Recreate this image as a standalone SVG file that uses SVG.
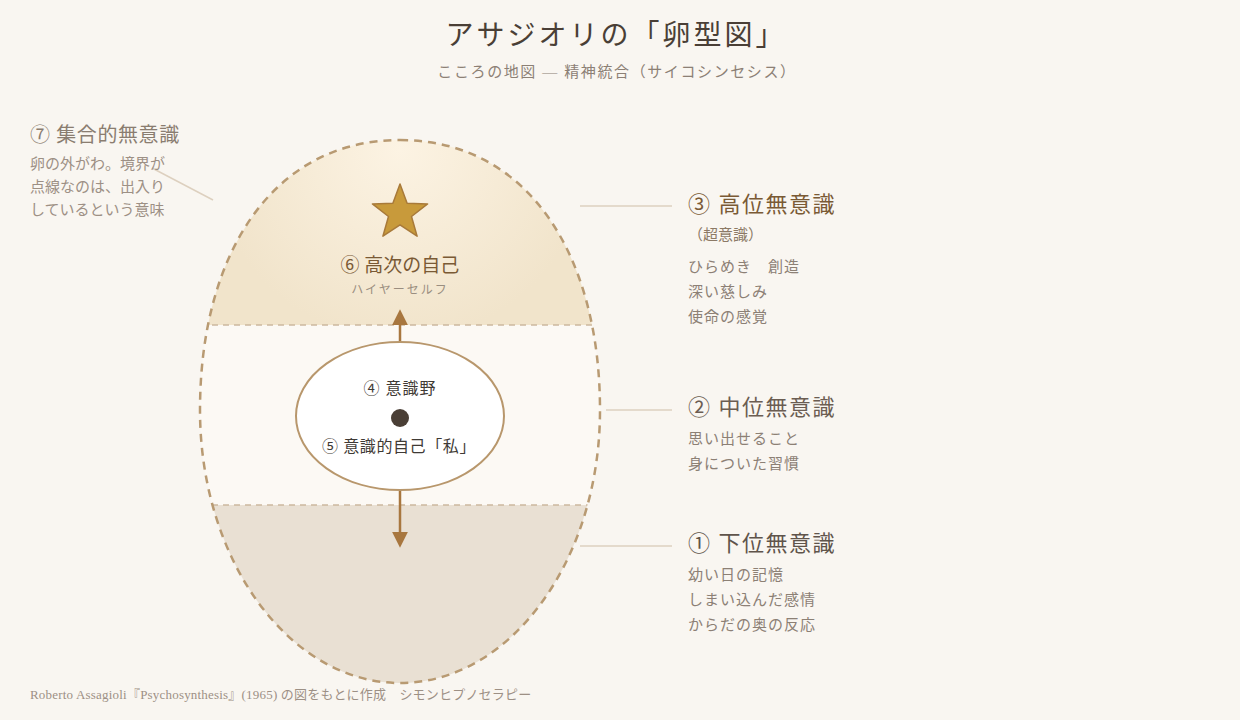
<svg xmlns="http://www.w3.org/2000/svg" width="1240" height="720" viewBox="0 0 1240 720">
<style>
text{font-family:"Liberation Serif","Noto Sans CJK JP",serif;}
.title{font-size:28px;fill:#4a3f36;letter-spacing:3px;font-weight:400;}
.sub{font-size:15px;fill:#8c8075;letter-spacing:1.6px;}
.head{font-size:22px;letter-spacing:1.5px;}
.body{font-size:15px;fill:#8c8075;letter-spacing:1px;}
.lead{stroke:#ddd0bf;stroke-width:1.5;fill:none;}
.band{stroke:#cbb89f;stroke-width:1.5;stroke-dasharray:6 5;fill:none;}
.arrow{stroke:#a8773f;stroke-width:2.5;fill:none;}
</style>
<defs>
<path id="egg" d="M400,140 C528,140 600,255 600,410 C600,561 510,683 400,683 C290,683 200,561 200,410 C200,255 272,140 400,140 Z"/>
<clipPath id="eggclip"><use href="#egg"/></clipPath>
<radialGradient id="topg" cx="400" cy="150" r="190" gradientUnits="userSpaceOnUse">
<stop offset="0" stop-color="#fcf3e3"/>
<stop offset="1" stop-color="#f1e4cb"/>
</radialGradient>
<marker id="ah" viewBox="0 0 10 10" refX="2" refY="5" markerWidth="16" markerHeight="16" orient="auto" markerUnits="userSpaceOnUse">
<path d="M0,0 L10,5 L0,10 Z" fill="#a8773f"/>
</marker>
</defs>
<rect width="1240" height="720" fill="#f9f6f1"/>

<g id="title">
<text class="title" x="616" y="45" text-anchor="middle">アサジオリの「卵型図」</text>
<text class="sub" x="617" y="77" text-anchor="middle">こころの地図 ― 精神統合（サイコシンセシス）</text>
</g>

<g id="egg-node">
<g clip-path="url(#eggclip)">
<rect x="190" y="130" width="420" height="195" fill="url(#topg)"/>
<rect x="190" y="325" width="420" height="180" fill="#fcf9f4"/>
<rect x="190" y="505" width="420" height="190" fill="#e9e0d3"/>
<line class="band" x1="190" y1="325" x2="610" y2="325"/>
<line class="band" x1="190" y1="505" x2="610" y2="505"/>
</g>
<use href="#egg" fill="none" stroke="#b89a72" stroke-width="2.5" stroke-dasharray="8 6"/>
</g>

<g id="connectors">
<line class="arrow" x1="400" y1="341" x2="400" y2="322" marker-end="url(#ah)"/>
<line class="arrow" x1="400" y1="491" x2="400" y2="535" marker-end="url(#ah)"/>
<line class="lead" x1="152" y1="168" x2="213" y2="200"/>
<line class="lead" x1="580" y1="206" x2="672" y2="206"/>
<line class="lead" x1="606" y1="410" x2="672" y2="410"/>
<line class="lead" x1="580" y1="546" x2="672" y2="546"/>
</g>

<g id="higher-self">
<polygon points="400,184 407.1,203.3 427.6,203.9 411.5,216.5 417.1,236.2 400,224.8 382.9,236.2 388.5,216.5 372.4,203.9 392.9,203.3" fill="#c89a3b" stroke="#a87a3a" stroke-width="1.5" stroke-linejoin="round"/>
<text x="400" y="272" text-anchor="middle" font-size="19" fill="#7a5a35">⑥ 高次の自己</text>
<text x="400" y="294" text-anchor="middle" font-size="12" fill="#9a8e80" letter-spacing="2">ハイヤーセルフ</text>
</g>

<g id="field">
<ellipse cx="400" cy="416" rx="104" ry="74" fill="#ffffff" stroke="#b8976c" stroke-width="2"/>
<text x="400" y="394" text-anchor="middle" font-size="16" fill="#3f3a35" letter-spacing="1">④ 意識野</text>
<circle cx="400" cy="418" r="9" fill="#4a3f36"/>
<text x="399" y="452" text-anchor="middle" font-size="16" fill="#3f3a35" letter-spacing="0.6">⑤ 意識的自己「私」</text>
</g>

<g id="collective">
<text x="30" y="142" font-size="20" fill="#8a7d70" letter-spacing="0.6">⑦ 集合的無意識</text>
<text x="30" y="169" font-size="15" fill="#9d9085">卵の外がわ。境界が</text>
<text x="30" y="192" font-size="15" fill="#9d9085">点線なのは、出入り</text>
<text x="30" y="215" font-size="15" fill="#9d9085">しているという意味</text>
</g>

<g id="higher">
<text class="head" x="688" y="212" fill="#7a5a35">③ 高位無意識</text>
<text x="688" y="240" font-size="15" fill="#8c7a66">（超意識）</text>
<text class="body" x="688" y="272">ひらめき　創造</text>
<text class="body" x="688" y="297">深い慈しみ</text>
<text class="body" x="688" y="322">使命の感覚</text>
</g>

<g id="middle">
<text class="head" x="688" y="415" fill="#6b5d52">② 中位無意識</text>
<text class="body" x="688" y="444">思い出せること</text>
<text class="body" x="688" y="469">身についた習慣</text>
</g>

<g id="lower">
<text class="head" x="688" y="551" fill="#5f544b">① 下位無意識</text>
<text class="body" x="688" y="580">幼い日の記憶</text>
<text class="body" x="688" y="605">しまい込んだ感情</text>
<text class="body" x="688" y="630">からだの奥の反応</text>
</g>

<g id="footer">
<text x="30" y="699" font-size="13" fill="#9d9085" letter-spacing="0.2">Roberto Assagioli『Psychosynthesis』(1965) の図をもとに作成　シモンヒプノセラピー</text>
</g>
</svg>
